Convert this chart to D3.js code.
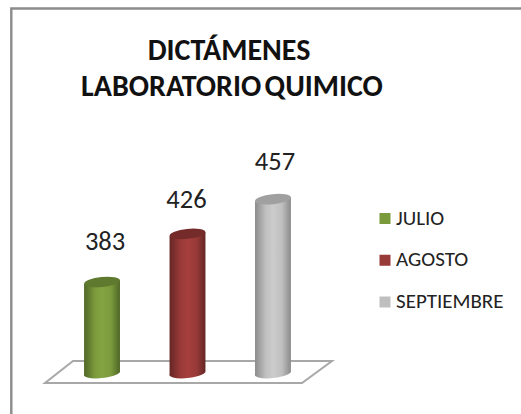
<!DOCTYPE html>
<html><head><meta charset="utf-8">
<script src="https://cdn.jsdelivr.net/npm/d3@7"></script>
<style>html,body{margin:0;padding:0;background:#fff}svg{display:block}</style>
</head><body><svg id="c" width="521" height="414"></svg>
<script>
const categories = ["JULIO", "AGOSTO", "SEPTIEMBRE"];
const values = [383, 426, 457];
const colors = ["#7a9a3c", "#983a38", "#bfbfbf"];
const darks = ["#4f6627", "#652624", "#8a8a8a"];
const tops = ["#5f7a2e", "#742b2a", "#a0a0a0"];
const lights = ["#84a443", "#a5403e", "#cccccc"];
const titleLines = ["DICTÁMENES", "LABORATORIO QUIMICO"];

const svg = d3.select("#c");
const font = "Carlito, Calibri, 'Open Sans', 'Noto Sans', sans-serif";
svg.append("path").attr("d", "M11.3,414V8.5H521")
  .attr("fill", "none").attr("stroke", "#8c8c8c").attr("stroke-width", 2.4);

const x = d3.scaleBand().domain(categories).range([34.5, 340.5]).padding(0.58);
const y = d3.scaleLinear().domain([300, 460]).range([375, 195.8]);

const defs = svg.append("defs");
categories.forEach((c, i) => {
  const g = defs.append("linearGradient").attr("id", "g" + i);
  [[0, darks[i]], [0.3, colors[i]], [0.5, lights[i]], [0.75, colors[i]], [1, darks[i]]].forEach(s =>
    g.append("stop").attr("offset", s[0]).attr("stop-color", s[1]));
});

svg.append("path")
  .attr("d", d3.line()([[73, 361], [332, 361], [302, 383], [45, 383]]) + "Z")
  .attr("fill", "#fff").attr("stroke", "#a8a8a8").attr("stroke-width", 2);

const tilt = -6, rx = 18, ry = 5;
const bars = svg.selectAll(".bar").data(values).join("g").attr("class", "bar");
bars.append("path").attr("fill", (d, i) => `url(#g${i})`)
  .attr("d", (d, i) => {
    const l = x(categories[i]), r = l + x.bandwidth(), t = y(d), b = y(300);
    return `M${l},${t + 2}L${l},${b - 1}A${rx},${ry} ${tilt} 0 0 ${r},${b - 3}L${r},${t - 2}Z`;
  });
bars.append("ellipse").attr("fill", (d, i) => tops[i])
  .attr("cx", (d, i) => x(categories[i]) + x.bandwidth() / 2)
  .attr("cy", d => y(d))
  .attr("rx", rx).attr("ry", ry)
  .attr("transform", (d, i) => `rotate(${tilt} ${x(categories[i]) + x.bandwidth() / 2} ${y(d)})`);

const labelDx = [3, -1, 2], labelDy = [32, 26, 29];
svg.selectAll(".val").data(values).join("text").attr("class", "val")
  .attr("x", (d, i) => x(categories[i]) + x.bandwidth() / 2 + labelDx[i])
  .attr("y", (d, i) => y(d) - labelDy[i])
  .attr("text-anchor", "middle").attr("font-family", font).attr("font-size", 26.5).attr("fill", "#222")
  .text(d => d);

svg.selectAll(".title").data(titleLines).join("text").attr("class", "title")
  .attr("x", (d, i) => i ? 232 : 229).attr("y", (d, i) => 60 + i * 36)
  .attr("text-anchor", "middle").attr("font-family", font).attr("font-size", 30).attr("font-weight", 700)
  .attr("word-spacing", -3.5).attr("fill", "#111").text(d => d);

const legendY = d3.scalePoint().domain(categories).range([218.5, 302]);
svg.selectAll(".sw").data(categories).join("rect").attr("class", "sw")
  .attr("x", 379.5).attr("y", d => legendY(d) - 5.5).attr("width", 11).attr("height", 11)
  .attr("fill", (d, i) => colors[i]);
svg.selectAll(".lg").data(categories).join("text").attr("class", "lg")
  .attr("x", 396).attr("y", d => legendY(d) + 6)
  .attr("font-family", font).attr("font-size", 21).attr("fill", "#222").text(d => d);
</script></body></html>
